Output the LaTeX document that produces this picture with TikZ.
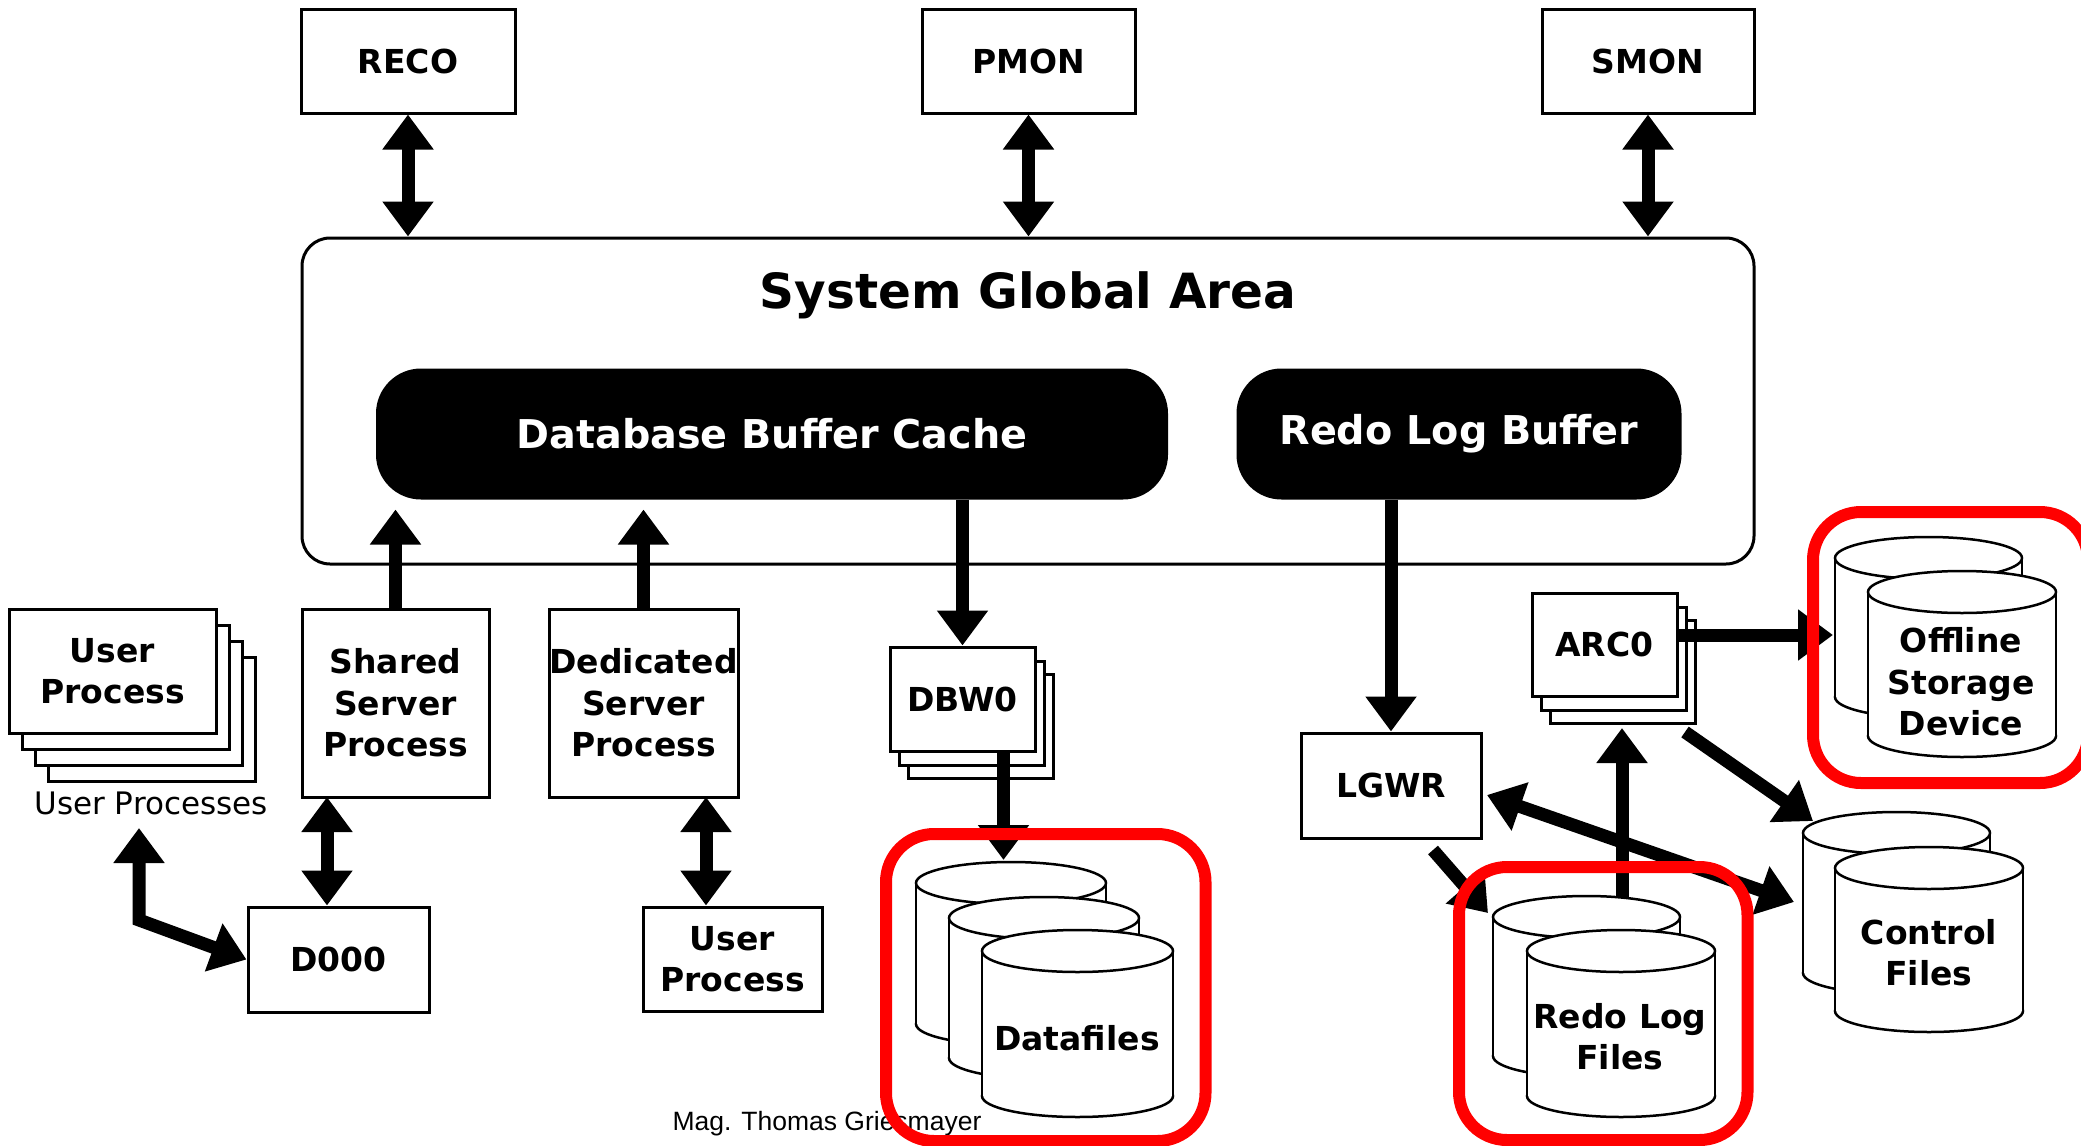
\documentclass[tikz,border=0pt]{standalone}
\usepackage{fontspec}
\setmainfont{DejaVu Sans}
\newfontfamily\arialf{Liberation Sans}
\usetikzlibrary{arrows.meta,calc}
\tikzset{
  proc/.style={draw, line width=3pt, fill=white, inner sep=0pt, align=center,
    font=\bfseries\fontsize{33}{41.5}\selectfont},
  lbl/.style={inner sep=0pt, align=center, font=\bfseries\fontsize{33}{41.5}\selectfont},
  copybox/.style={draw, line width=3pt, fill=white},
  arr/.style={line width=13pt, -{Triangle[length=35pt,width=49pt]}},
  darr/.style={line width=13pt, {Triangle[length=35pt,width=49pt]}-{Triangle[length=35pt,width=49pt]}},
  hl/.style={draw=red, line width=12pt, rounded corners=48pt},
  cylline/.style={line width=2.5pt},
  mem/.style={fill=black, rounded corners=45pt, inner sep=0pt, text=white,
    font=\bfseries\fontsize{39.7}{45}\selectfont},
}
\newcommand\cylin[4]{%
  \draw[cylline, fill=white] ({#1+#3/2},{#2+#4-21}) ellipse [x radius={#3/2}, y radius=21];
  \fill[white] (#1,{#2+21}) rectangle ({#1+#3},{#2+#4-21});
  \draw[cylline] (#1,{#2+21}) -- (#1,{#2+#4-21}) ({#1+#3},{#2+21}) -- ({#1+#3},{#2+#4-21});
  \draw[cylline, fill=white] ({#1+#3/2},{#2+21}) ellipse [x radius={#3/2}, y radius=21];
}
\begin{document}
\begin{tikzpicture}[x=1pt,y=-1pt]
\useasboundingbox (0,0) rectangle (2081,1146);
\fill[white] (0,0) rectangle (2081,1146);

% System Global Area
\node[draw, line width=3pt, rounded corners=28pt, minimum width=1452pt, minimum height=326pt] (sga) at (1028,401) {};
\node[inner sep=0pt, font=\bfseries\fontsize{48.5}{54}\selectfont] (sgat) at (1028,295) {System Global Area};
\node[mem, minimum width=792pt, minimum height=131pt] (dbc) at (772,434) {Database Buffer Cache};
\node[mem, minimum width=445pt, minimum height=131pt] (rlb) at (1459,434) {Redo Log Buffer};

% top processes
\node[proc, minimum width=214pt, minimum height=104pt] (reco) at (408,61) {RECO};
\node[proc, minimum width=213pt, minimum height=104pt] (pmon) at (1028.5,61) {PMON};
\node[proc, minimum width=212pt, minimum height=104pt] (smon) at (1648,61) {SMON};

% server processes
\node[proc, minimum width=187pt, minimum height=188pt] (shared) at (395.5,703) {Shared\\Server\\Process};
\node[proc, minimum width=189pt, minimum height=188pt] (dedic) at (643.5,703) {Dedicated\\Server\\Process};
\node[proc, minimum width=181pt, minimum height=105pt] (d000) at (338.5,959.5) {D000};
\node[proc, minimum width=179pt, minimum height=104pt] (uproc) at (732.5,959) {User\\Process};
\node[proc, minimum width=180pt, minimum height=105pt] (lgwr) at (1391,785.5) {LGWR};

% user process stack
\draw[copybox] (48,657) rectangle (255,781);
\draw[copybox] (35,641) rectangle (242,765);
\draw[copybox] (22,625) rectangle (229,749);
\node[proc, minimum width=207pt, minimum height=124pt] (ups) at (112.5,671) {User\\Process};
\node[inner sep=0pt, font=\fontsize{31}{36}\selectfont] (upl) at (151,803) {User Processes};

% DBW0 stack
\draw[copybox] (908,674) rectangle (1053,778);
\draw[copybox] (899,661) rectangle (1044,765);
\node[proc, minimum width=145pt, minimum height=104pt] (dbw) at (962.5,699) {DBW0};

% ARC0 stack
\draw[copybox] (1550,620) rectangle (1695,723);
\draw[copybox] (1541,607) rectangle (1686,710);
\node[proc, minimum width=145pt, minimum height=103pt] (arc) at (1604.5,644.5) {ARC0};

% cylinders
\cylin{916}{862}{190}{183}
\cylin{949}{897}{190}{182}
\cylin{982}{930}{191}{187}
\node[lbl] (datafiles) at (1077,1038) {Datafiles};

\cylin{1835}{537}{187}{181}
\cylin{1868}{571}{188}{186}
\node[lbl] (offline) at (1961,682) {Offline\\Storage\\Device};

\cylin{1803}{812}{187}{182}
\cylin{1835}{847}{188}{185}
\node[lbl] (control) at (1929,952.5) {Control\\Files};

\cylin{1493}{896}{187}{181}
\cylin{1527}{930}{188}{187}
\node[lbl] (redofiles) at (1620,1036.5) {Redo Log\\Files};

% connector end points
\coordinate (uptip) at (139,828);
\coordinate (ubend) at (139,920);
\coordinate (shd) at (327,797);
\coordinate (ddu) at (706,797);
\coordinate (dbwout) at (1003.5,751);
\coordinate (dftop) at (1003.5,860);
\coordinate (rftop) at (1622,898);
\coordinate (arcin) at (1622,728);
\coordinate (arcout) at (1677,635);
\coordinate (offin) at (1833,635);
\coordinate (arcdiag) at (1685,732);
\coordinate (ctlin) at (1813,821);
\coordinate (lgwrtip) at (1487,795);
\coordinate (ctltip) at (1794,902);
\coordinate (lgwrout) at (1433,850);
\coordinate (rfin) at (1488,913);

% arrows
\draw[darr] (reco.south) -- (reco.south |- sga.north);
\draw[darr] (pmon.south) -- (pmon.south |- sga.north);
\draw[darr] (smon.south) -- (smon.south |- sga.north);
\draw[arr] (shared.north) -- ++(0,-98);
\draw[arr] (dedic.north) -- ++(0,-98);
\draw[arr] (dbw.north |- dbc.south) -- (dbw.north);
\draw[arr] (lgwr.north |- rlb.south) -- (lgwr.north);
\draw[darr] (shd) -- (shd |- d000.north);
\draw[darr] (ddu) -- (ddu |- uproc.north);
\draw[darr] (uptip) -- (ubend) -- (d000.west);
\draw[arr] (dbwout) -- (dftop);
\draw[arr] (rftop) -- (arcin);
\draw[arr] (arcout) -- (offin);
\draw[arr] (arcdiag) -- (ctlin);
\draw[darr] (lgwrtip) -- (ctltip);
\draw[arr] (lgwrout) -- (rfin);

% author
\node[font=\arialf\fontsize{26.5}{30}\selectfont, anchor=base, inner sep=0pt] (author) at (827,1130) {Mag. Thomas Griesmayer};

% highlights
\draw[hl] (886,834) rectangle (1205.5,1141);
\draw[hl] (1459,867) rectangle (1747.5,1140);
\draw[hl] (1813,512) rectangle (2088,783);
\end{tikzpicture}
\end{document}
